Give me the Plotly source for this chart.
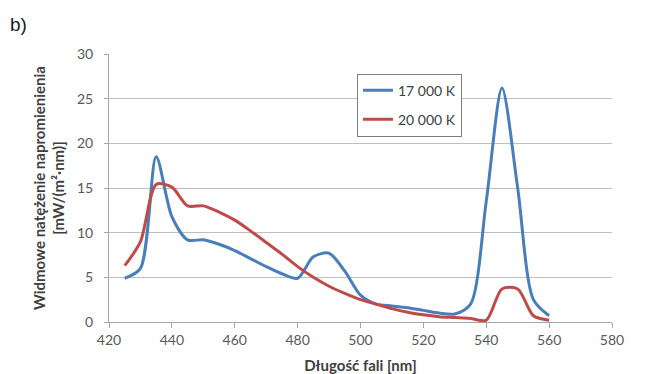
import plotly.graph_objects as go

wavelength = [425, 430, 435, 440, 445, 450, 455, 460, 465, 470, 475, 480, 485, 490,
              495, 500, 505, 510, 515, 520, 525, 530, 535, 540, 545, 550, 555, 560]
k17000 = [4.9, 6.0, 18.5, 11.8, 9.2, 9.2, 8.7, 8.0, 7.1, 6.2, 5.4, 4.9, 7.3, 7.7,
          5.7, 3.0, 2.0, 1.8, 1.6, 1.3, 1.0, 0.9, 2.0, 13.5, 26.2, 15.0, 2.5, 0.7]
k20000 = [6.3, 9.0, 15.4, 15.1, 13.0, 13.0, 12.3, 11.4, 10.2, 8.9, 7.6, 6.2, 5.0, 4.0,
          3.2, 2.5, 2.0, 1.5, 1.1, 0.8, 0.6, 0.5, 0.4, 0.2, 3.7, 3.7, 0.7, 0.2]
series_names = ["17 000 K", "20 000 K"]
x_ticks = [420, 440, 460, 480, 500, 520, 540, 560, 580]
y_ticks = [0, 5, 10, 15, 20, 25, 30]

font_family = "Lato, 'Open Sans', sans-serif"
tick_color = "#595959"
grid_color = "#bfbfbf"

fig = go.Figure()
fig.add_trace(go.Scatter(x=wavelength, y=k17000, name=series_names[0], mode="lines",
                         line=dict(color="#4a7ebb", width=3, shape="spline", smoothing=0.8),
                         legendgroup="a"))
fig.add_trace(go.Scatter(x=wavelength, y=k20000, name=series_names[1], mode="lines",
                         line=dict(color="#be4b48", width=3, shape="spline", smoothing=0.8),
                         legendgroup="b"))

fig.update_layout(
    width=649, height=374,
    margin=dict(l=109, r=37, t=54, b=52),
    paper_bgcolor="white", plot_bgcolor="white",
    font=dict(family=font_family, size=14, color=tick_color),
    legend=dict(x=0.493, y=0.927, xanchor="left", yanchor="top",
                bgcolor="white", bordercolor="#808080", borderwidth=1,
                font=dict(size=14, color="#404040"), tracegroupgap=8,
                itemwidth=30),
    xaxis=dict(range=[420, 580], tickvals=x_ticks, showgrid=False, automargin=False,
               showline=True, linecolor="#a6a6a6", linewidth=1,
               ticks="outside", ticklen=5, tickcolor="#a6a6a6",
               tickfont=dict(size=14, color=tick_color), zeroline=False,
               title=dict(text="<b>Długość fali [nm]</b>", font=dict(size=15, color="#404040"),
                          standoff=14)),
    yaxis=dict(range=[0, 30], tickvals=y_ticks, showgrid=True, gridcolor=grid_color,
               automargin=False,
               gridwidth=1, showline=True, linecolor="#a6a6a6", linewidth=1,
               ticks="outside", ticklen=4, tickcolor="#a6a6a6", ticklabelstandoff=8,
               tickfont=dict(size=14, color=tick_color), zeroline=False,
               title=dict(text="<b>Widmowe natężenie napromienienia<br>[mW/(m²·nm)]</b>",
                          font=dict(size=15, color="#404040"), standoff=8)),
)

fig.add_annotation(text="b)", xref="paper", yref="paper",
                   x=(8 - 109) / 503, y=(321.7 - 24) / 268.2,
                   xanchor="left", yanchor="middle", showarrow=False,
                   font=dict(family="Liberation Sans, Arial, sans-serif", size=19, color="#1a1a1a"))

fig.write_html("out.html")
